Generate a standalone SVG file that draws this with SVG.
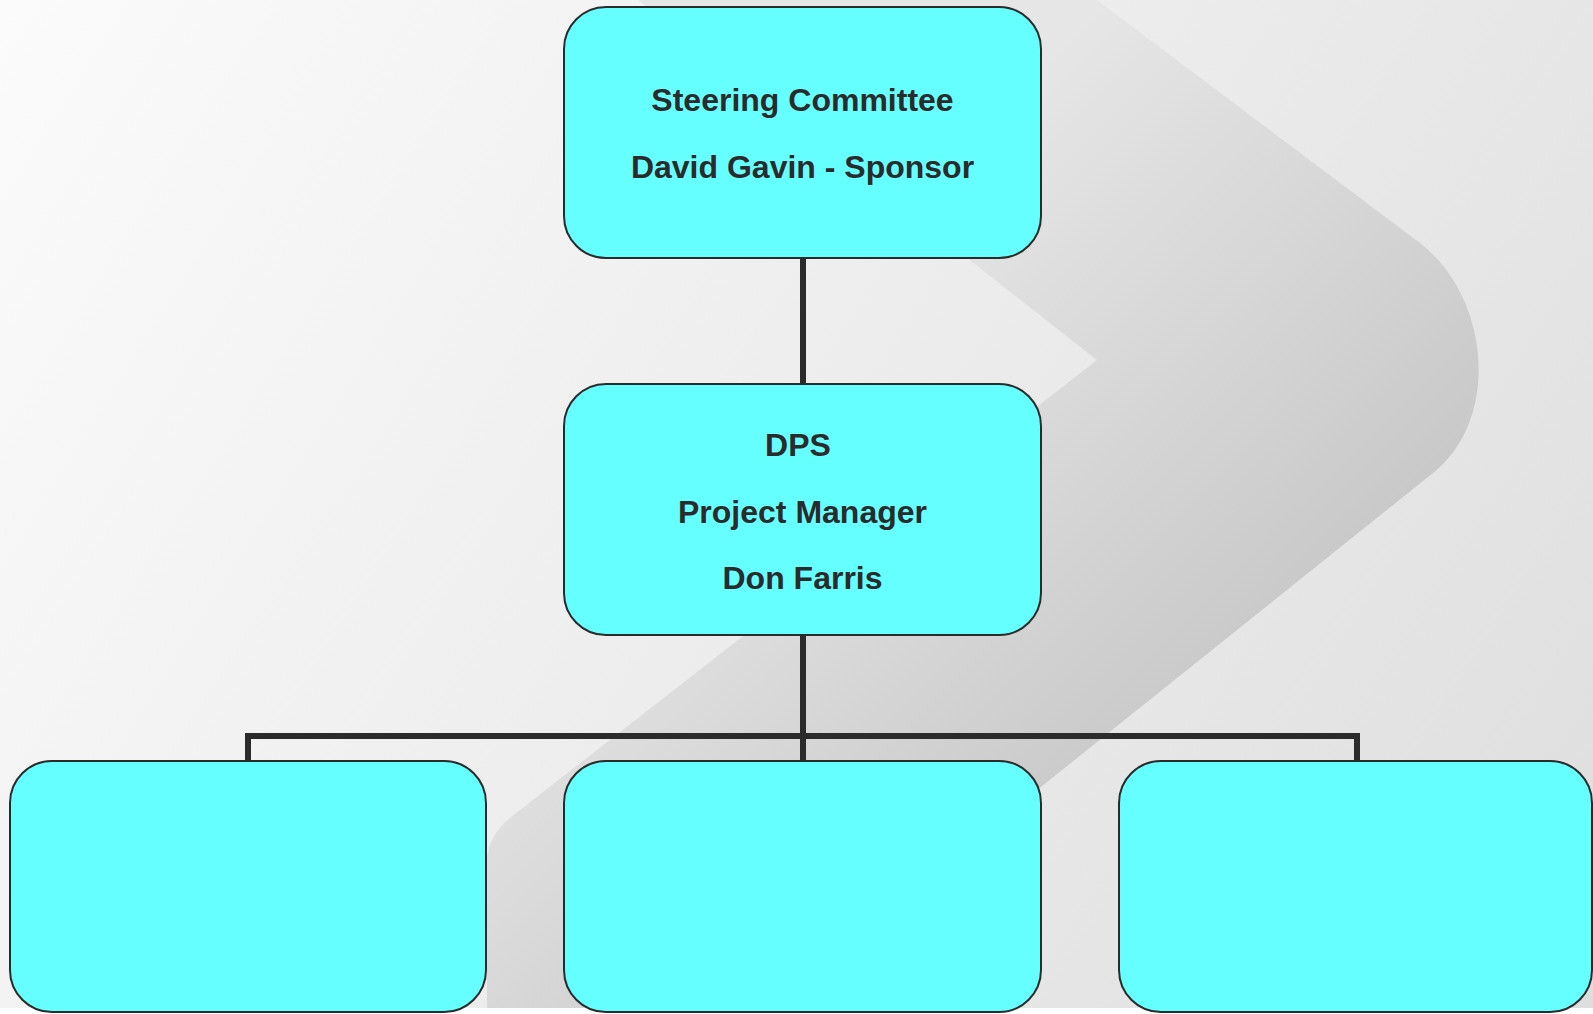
<svg xmlns="http://www.w3.org/2000/svg" width="1593" height="1014" viewBox="0 0 1593 1014">
<defs>
<linearGradient id="bg" x1="0" y1="0" x2="1593" y2="1008" gradientUnits="userSpaceOnUse">
<stop offset="0" stop-color="#fbfbfb"/>
<stop offset="1" stop-color="#dedede"/>
</linearGradient>
<linearGradient id="chev" x1="550" y1="550" x2="950" y2="950" gradientUnits="userSpaceOnUse">
<stop offset="0" stop-color="#e6e6e6"/>
<stop offset="1" stop-color="#c9c9c9"/>
</linearGradient>
<style>
.box{fill:#66ffff;stroke:#2b2b2b;stroke-width:2}
.lbl{font-family:"Liberation Sans",Arial,sans-serif;font-weight:bold;font-size:32px;fill:#2b2b2b;text-anchor:middle}
.conn{fill:none;stroke:#2b2b2b;stroke-width:6;stroke-linejoin:miter;stroke-linecap:butt}
</style>
</defs>
<rect x="0" y="0" width="1593" height="1014" fill="#ffffff"/>
<rect x="0" y="0" width="1593" height="1008" fill="url(#bg)"/>
<clipPath id="pg"><rect x="0" y="0" width="1593" height="1008"/></clipPath>
<path clip-path="url(#pg)" fill="url(#chev)" d="M1097,0 L1420,243 C1490,297 1501,419 1433,473 L700,1060 L487,1060 L487,862 C487,840 500,824 520,810 L1097,360 L638,0 Z"/>
<g id="connectors">
<path class="conn" d="M803,258 L803,384"/>
<path class="conn" d="M803,635 L803,761"/>
<path class="conn" d="M248,761 L248,736 L1357,736 L1357,761"/>
</g>
<g id="steering">
<rect class="box" x="564" y="7" width="477" height="251" rx="42" ry="42"/>
<text class="lbl" x="802.5" y="111">Steering Committee</text>
<text class="lbl" x="802.5" y="178">David Gavin - Sponsor</text>
</g>
<g id="dps">
<rect class="box" x="564" y="384" width="477" height="251" rx="42" ry="42"/>
<text class="lbl" x="798" y="456">DPS</text>
<text class="lbl" x="802.5" y="523">Project Manager</text>
<text class="lbl" x="802.5" y="589">Don Farris</text>
</g>
<g id="child1">
<rect class="box" x="10" y="761" width="476" height="251" rx="42" ry="42"/>
</g>
<g id="child2">
<rect class="box" x="564" y="761" width="477" height="251" rx="42" ry="42"/>
</g>
<g id="child3">
<rect class="box" x="1119" y="761" width="473" height="251" rx="42" ry="42"/>
</g>
</svg>
